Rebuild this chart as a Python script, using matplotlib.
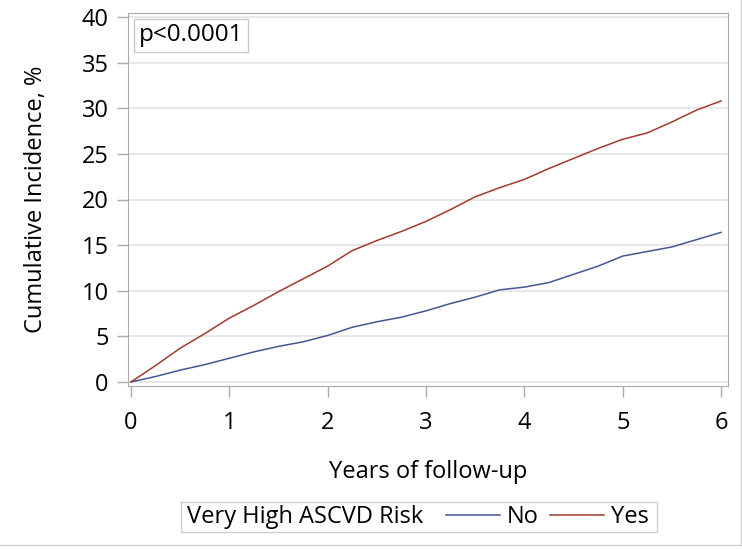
import matplotlib
matplotlib.use("Agg")
import matplotlib.pyplot as plt
from matplotlib.lines import Line2D
from matplotlib.patches import Rectangle

plt.rcParams['font.family'] = ['Open Sans', 'DejaVu Sans']

# Cumulative incidence (%) by years of follow-up
years = [0, 0.25, 0.5, 0.75, 1.0, 1.25, 1.5, 1.75, 2.0, 2.25, 2.5, 2.75, 3.0,
         3.25, 3.5, 3.75, 4.0, 4.25, 4.5, 4.75, 5.0, 5.25, 5.5, 5.75, 6.0]
risk_no = [0, 0.6, 1.3, 1.9, 2.6, 3.3, 3.9, 4.4, 5.1, 6.0, 6.6, 7.1, 7.8,
           8.6, 9.3, 10.1, 10.4, 10.9, 11.8, 12.7, 13.8, 14.3, 14.8, 15.6, 16.4]
risk_yes = [0, 1.8, 3.7, 5.3, 7.0, 8.4, 9.9, 11.3, 12.7, 14.4, 15.5, 16.5, 17.6,
            18.9, 20.3, 21.3, 22.2, 23.4, 24.5, 25.6, 26.6, 27.3, 28.5, 29.8, 30.8]
xticks = [0, 1, 2, 3, 4, 5, 6]
yticks = [0, 5, 10, 15, 20, 25, 30, 35, 40]

blue = '#445694'
red = '#A23A2E'
frame = '#A8ACB0'
W, H = 742, 549

fig = plt.figure(figsize=(W / 100, H / 100), dpi=100)
ax = fig.add_axes([128 / W, 1 - 386 / H, 600 / W, 373 / H])

ax.plot(years, risk_no, color=blue, lw=1.1)
ax.plot(years, risk_yes, color=red, lw=1.1)

ax.set_xlim(-0.03, 6.07)
ax.set_ylim(-0.44, 40.44)
ax.set_xticks(xticks)
ax.set_yticks(yticks)
ax.grid(axis='y', color='#E8E8E8', lw=1.5)
ax.set_axisbelow(True)
for s in ax.spines.values():
    s.set_color(frame)
ax.tick_params(axis='both', colors=frame, labelcolor='black', labelsize=17, length=8, width=1)
ax.tick_params(axis='x', pad=10)
ax.tick_params(axis='y', pad=6)

ax.set_xlabel('Years of follow-up', fontsize=17, labelpad=18)
ax.set_ylabel('Cumulative Incidence, %', fontsize=17, labelpad=24)

ax.text(0.018, 0.972, 'p<0.0001', transform=ax.transAxes, fontsize=17.5, va='top', ha='left',
        bbox=dict(boxstyle='square,pad=0.2', fc='white', ec='#C8C8C8', lw=1))

# legend strip under the plot
fig.patches.append(Rectangle((181 / W, 1 - 532 / H), 476 / W, 30 / H, transform=fig.transFigure,
                             fill=False, ec='#D0D0D0', lw=1))
fig.text(187 / W, 1 - 517 / H, 'Very High ASCVD Risk', fontsize=17, va='center', ha='left')
handles = [Line2D([], [], color=blue, lw=1.1), Line2D([], [], color=red, lw=1.1)]
fig.legend(handles, ['No', 'Yes'], loc='center left', bbox_to_anchor=(434 / W, 1 - 517 / H),
           ncol=2, frameon=False, fontsize=17, borderpad=0, handlelength=2.3,
           handletextpad=0.3, columnspacing=0.45)

# outer border
fig.add_artist(Line2D([741 / W, 741 / W], [1 - 545 / H, 1], transform=fig.transFigure, color='#D0D0D0', lw=1))
fig.add_artist(Line2D([0, 741 / W], [1 - 545 / H, 1 - 545 / H], transform=fig.transFigure, color='#D0D0D0', lw=1))

fig.savefig('out.png', dpi=100)
